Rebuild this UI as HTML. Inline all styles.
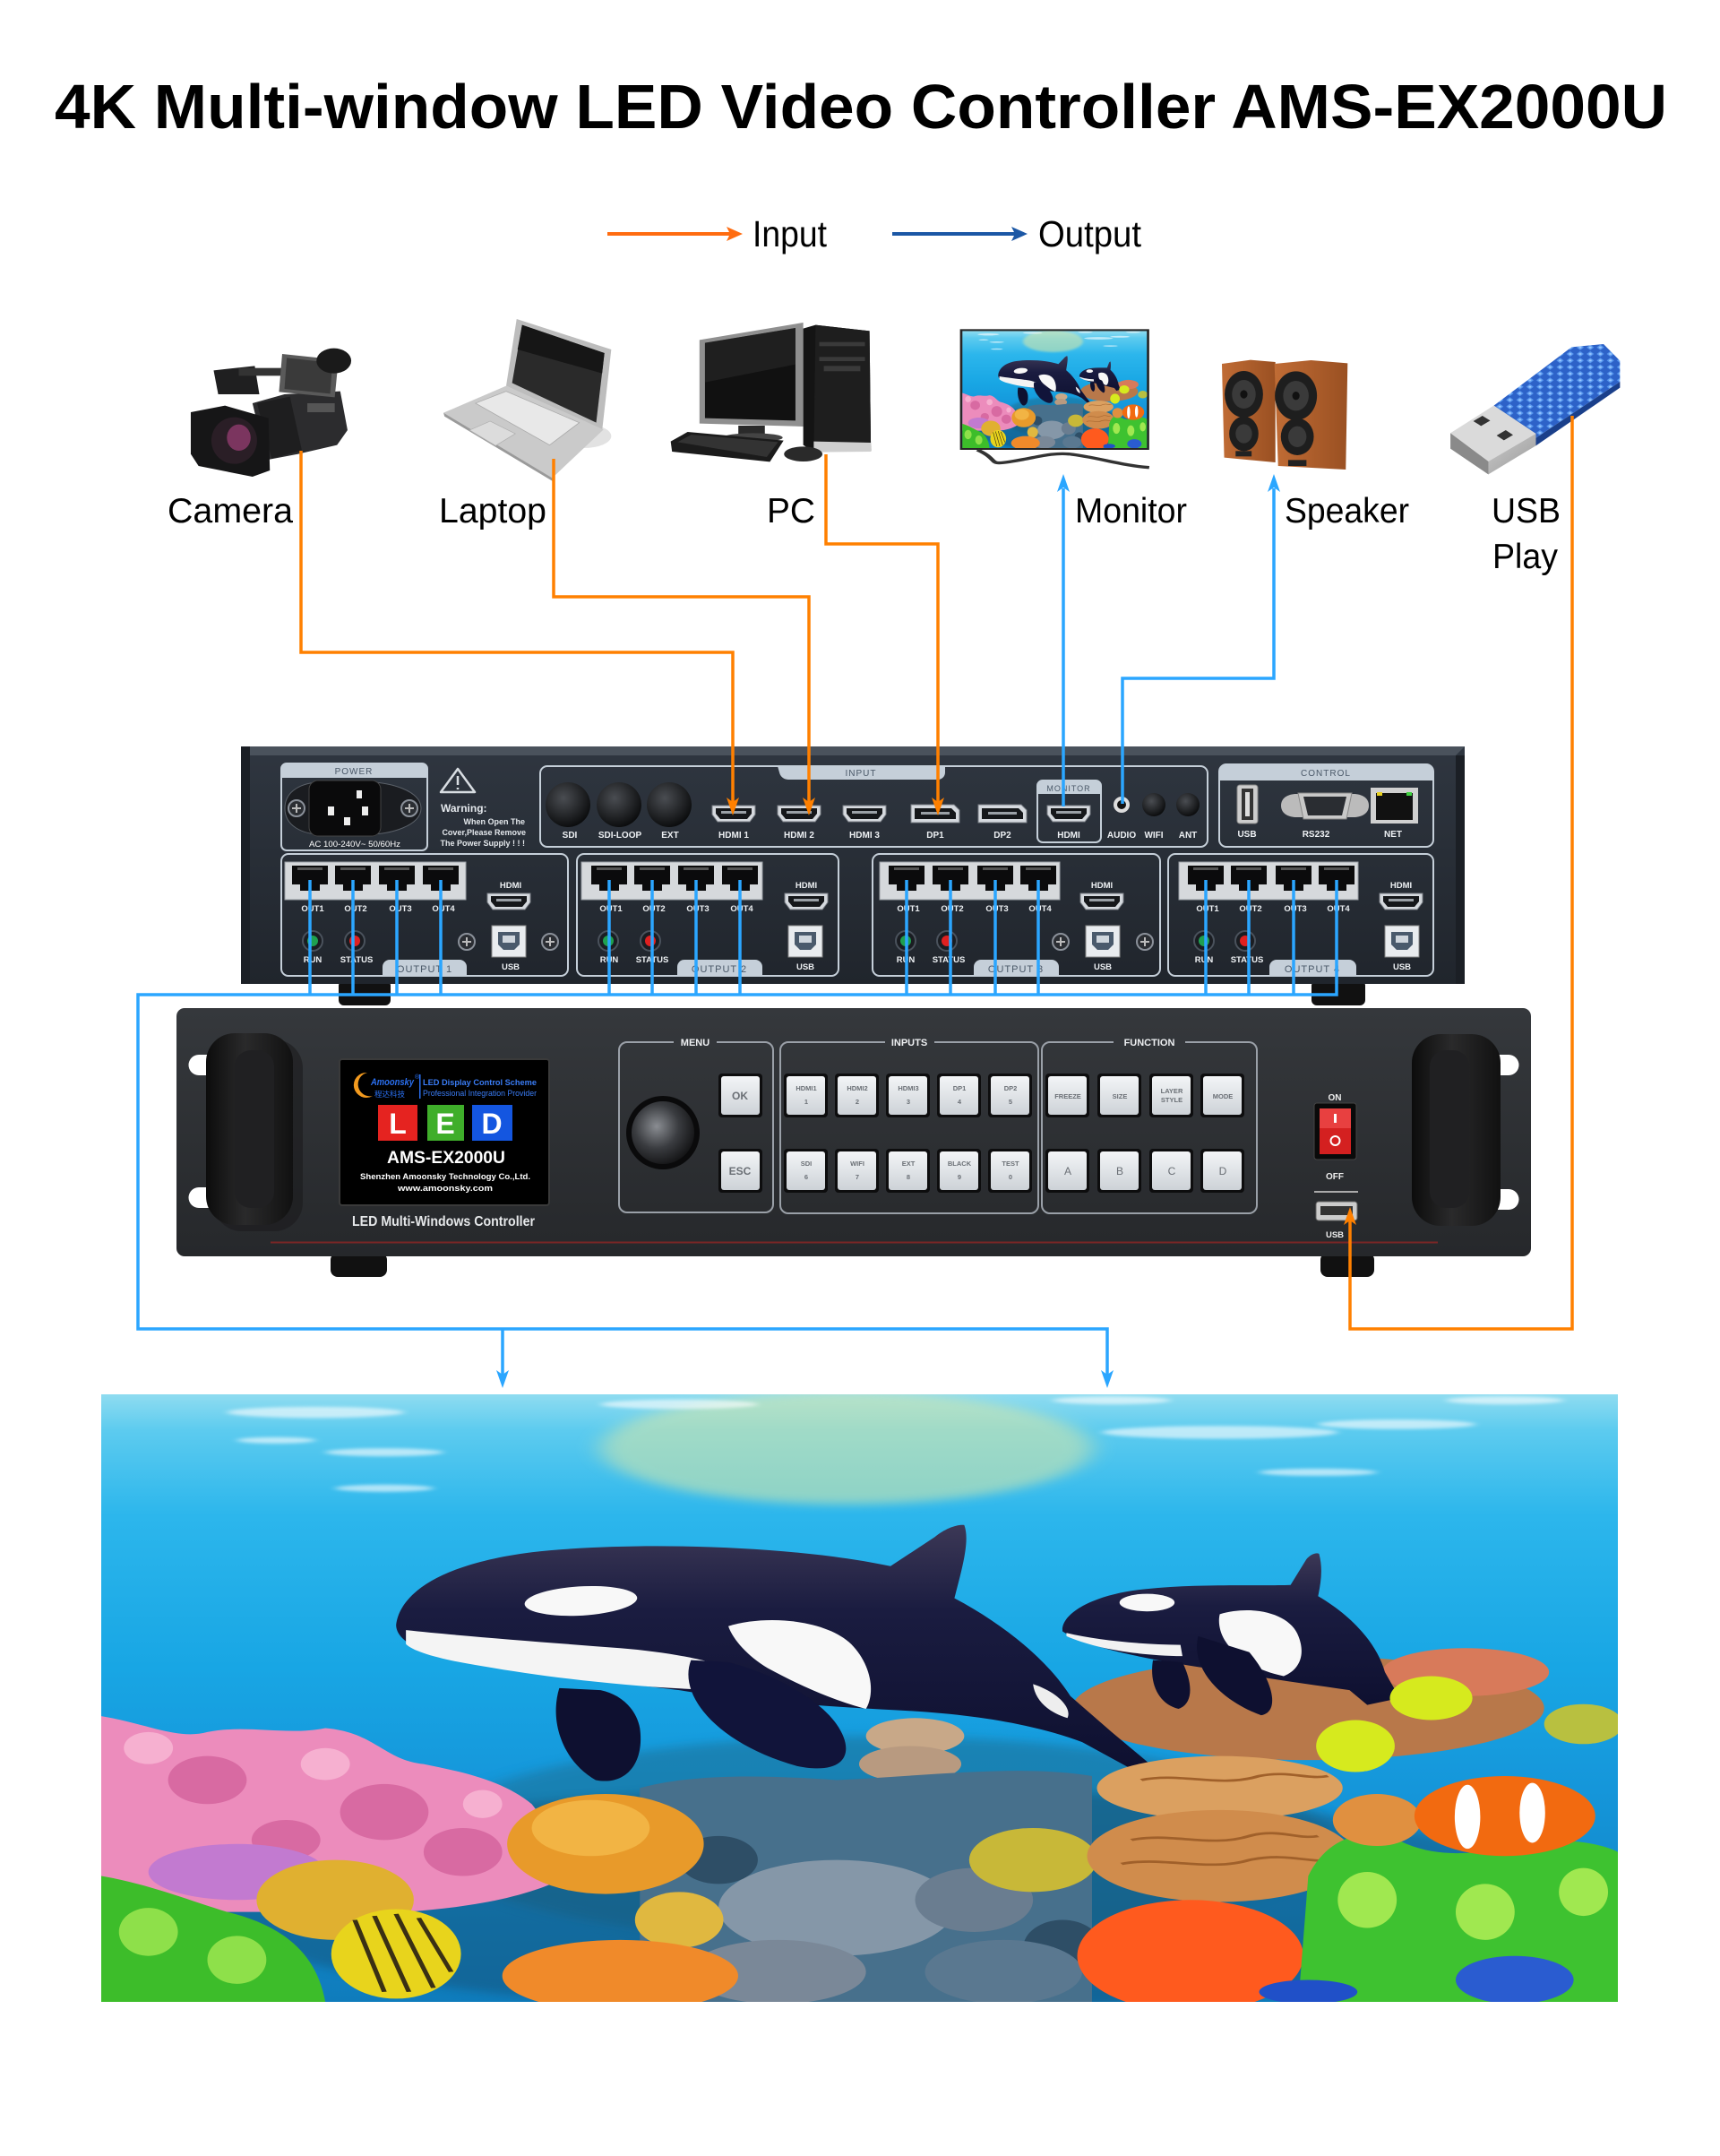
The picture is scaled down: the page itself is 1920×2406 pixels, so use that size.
<!DOCTYPE html>
<html><head><meta charset="utf-8">
<style>
html,body{margin:0;padding:0;background:#fff;}
svg{display:block;}
text{font-family:"Liberation Sans",Arial,"Noto Sans CJK SC",sans-serif;}
</style></head><body>
<svg width="1920" height="2406" viewBox="0 0 1920 2406" xmlns="http://www.w3.org/2000/svg">
<defs>
<linearGradient id="water" x1="0" y1="0" x2="0" y2="1">
<stop offset="0" stop-color="#8fdcf0"/><stop offset="0.06" stop-color="#5ccbef"/><stop offset="0.2" stop-color="#2cb6ec"/><stop offset="0.45" stop-color="#18a6e4"/><stop offset="0.65" stop-color="#1596da"/><stop offset="1" stop-color="#0f7cbc"/>
</linearGradient>
<linearGradient id="orcaShade" x1="0" y1="0" x2="0" y2="1">
<stop offset="0" stop-color="#3c3856"/><stop offset="0.35" stop-color="#1a1c40"/><stop offset="1" stop-color="#0e1030"/>
</linearGradient>
<filter id="b12" x="-50%" y="-50%" width="200%" height="200%"><feGaussianBlur stdDeviation="12"/></filter>
<filter id="b4" x="-50%" y="-50%" width="200%" height="200%"><feGaussianBlur stdDeviation="4"/></filter>
<linearGradient id="rearBody" x1="0" y1="0" x2="0" y2="1"><stop offset="0" stop-color="#2f3640"/><stop offset="1" stop-color="#20252c"/></linearGradient>
<linearGradient id="frontBody" x1="0" y1="0" x2="0" y2="1"><stop offset="0" stop-color="#35383c"/><stop offset="1" stop-color="#26282b"/></linearGradient>
<linearGradient id="btnG" x1="0" y1="0" x2="0" y2="1"><stop offset="0" stop-color="#f3f5f7"/><stop offset="1" stop-color="#cdd2d7"/></linearGradient>
<radialGradient id="knobG" cx="0.4" cy="0.4" r="0.7"><stop offset="0" stop-color="#8a8d92"/><stop offset="0.5" stop-color="#3a3c40"/><stop offset="1" stop-color="#0c0c0d"/></radialGradient>
<radialGradient id="sdiG" cx="0.4" cy="0.35" r="0.7"><stop offset="0" stop-color="#4a4d52"/><stop offset="1" stop-color="#08090a"/></radialGradient>
<linearGradient id="handleG" x1="0" y1="0" x2="1" y2="0"><stop offset="0" stop-color="#0c0c0c"/><stop offset="0.45" stop-color="#2a2a2b"/><stop offset="1" stop-color="#111"/></linearGradient>
<linearGradient id="silverG" x1="0" y1="0" x2="1" y2="1"><stop offset="0" stop-color="#f0f0f0"/><stop offset="1" stop-color="#9a9a9a"/></linearGradient>
<linearGradient id="woodG" x1="0" y1="0" x2="1" y2="0"><stop offset="0" stop-color="#c06c35"/><stop offset="1" stop-color="#9a5022"/></linearGradient>
<pattern id="dots" width="22" height="22" patternUnits="userSpaceOnUse"><rect width="22" height="22" fill="#2d62c8"/><path d="M11,2 L19,11 L11,20 L3,11Z" fill="#5a9af0"/><circle cx="11" cy="11" r="3" fill="#9cc8ff"/></pattern>

<symbol id="ocean" viewBox="12 35 1543 1520" preserveAspectRatio="none">
<rect x="12" y="35" width="1543" height="1520" fill="url(#water)"/>
<ellipse cx="770" cy="170" rx="250" ry="140" fill="#d8e8a8" opacity="0.55" filter="url(#b12)"/>
<g fill="#ffffff" opacity="0.6" filter="url(#b4)">
<ellipse cx="230" cy="80" rx="90" ry="14"/><ellipse cx="300" cy="180" rx="60" ry="10"/><ellipse cx="190" cy="150" rx="40" ry="8"/>
<ellipse cx="1150" cy="130" rx="120" ry="16"/><ellipse cx="1330" cy="110" rx="80" ry="12"/><ellipse cx="1440" cy="50" rx="60" ry="10"/>
<ellipse cx="1040" cy="50" rx="60" ry="10"/><ellipse cx="600" cy="60" rx="80" ry="12"/><ellipse cx="300" cy="270" rx="50" ry="9"/><ellipse cx="1250" cy="230" rx="60" ry="9"/>
</g>
<ellipse cx="800" cy="1150" rx="460" ry="260" fill="#1d6f94" opacity="0.55" filter="url(#b12)"/>
<ellipse cx="800" cy="1300" rx="700" ry="280" fill="#123a55" opacity="0.35" filter="url(#b12)"/>
<ellipse cx="1240" cy="820" rx="240" ry="130" fill="#b8784a"/>
<ellipse cx="1400" cy="730" rx="85" ry="60" fill="#d87a5a"/>
<ellipse cx="840" cy="890" rx="50" ry="45" fill="#c8a888"/>
<ellipse cx="835" cy="960" rx="52" ry="45" fill="#b89a80"/>
<path d="M560,1020 C620,980 700,990 760,1000 C850,990 950,960 1020,990 L1020,1555 L560,1555 Z" fill="#47708c"/>
<ellipse cx="760" cy="1320" rx="120" ry="120" fill="#8597a8"/>
<ellipse cx="900" cy="1300" rx="60" ry="80" fill="#6a7d90"/>
<ellipse cx="700" cy="1480" rx="90" ry="80" fill="#7a8898"/>
<ellipse cx="640" cy="1200" rx="40" ry="60" fill="#2e4e66"/>
<ellipse cx="990" cy="1420" rx="40" ry="70" fill="#2e4e66"/>
<ellipse cx="1520" cy="860" rx="40" ry="50" fill="#b8c040"/>
<!-- big orca -->
<path d="M312,612 C316,530 360,458 450,430 C560,400 720,415 815,465 L860,392 C870,372 882,360 890,362 C896,400 888,470 880,545 C930,610 975,700 998,790 L1040,880 L1078,958 L1062,975 L1010,905 C960,860 900,835 820,825 C740,815 660,800 600,775 C500,745 400,720 345,680 C325,665 312,640 312,612 Z" fill="url(#orcaShade)"/>
<path d="M322,625 C380,640 460,655 540,670 C590,680 630,700 650,720 L640,775 C560,770 470,745 400,715 C360,700 330,680 322,660 Z" fill="#f4f4f4"/>
<ellipse cx="500" cy="552" rx="58" ry="36" transform="rotate(-12 500 552)" fill="#f8f8f8"/>
<path d="M650,615 C690,585 750,600 775,660 C795,710 800,780 790,822 C755,800 720,760 690,720 C670,690 655,650 650,615 Z" fill="#f8f8f8"/>
<path d="M960,760 C985,780 1000,820 995,845 C975,830 962,800 960,760Z" fill="#eee"/>
<path d="M478,770 C468,850 480,950 515,1000 C545,1015 565,960 560,870 C556,820 540,785 520,775 Z" fill="#0e1030"/>
<path d="M612,700 C598,790 640,910 720,965 C770,990 780,930 760,860 C740,790 690,730 650,705 Z" fill="#11143a"/>
<!-- small orca -->
<path d="M990,628 C988,585 1020,535 1075,522 C1130,508 1190,515 1222,512 L1238,448 C1242,436 1248,430 1251,434 C1255,470 1253,505 1250,540 C1285,590 1310,660 1318,730 L1333,795 L1300,812 L1282,775 C1240,760 1195,745 1150,725 C1080,700 1015,670 990,628 Z" fill="url(#orcaShade)"/>
<ellipse cx="1076" cy="556" rx="28" ry="22" fill="#f8f8f8"/>
<path d="M1150,585 C1185,560 1222,585 1230,640 C1238,690 1230,725 1215,740 C1185,725 1165,690 1155,650 C1150,630 1148,605 1150,585 Z" fill="#f8f8f8"/>
<path d="M994,632 C1025,650 1065,660 1110,662 L1112,690 C1060,688 1020,668 994,640 Z" fill="#f2f2f2"/>
<path d="M1082,700 C1078,760 1088,810 1108,822 C1124,808 1122,755 1112,705 Z" fill="#0e1030"/>
<path d="M1128,640 C1120,720 1150,800 1192,838 C1212,830 1204,750 1180,680 Z" fill="#0e1030"/>
<!-- near reef -->
<path d="M12,840 C60,860 90,900 120,880 C160,860 200,890 240,870 C290,880 300,950 340,960 C380,980 420,1000 450,1060 C470,1120 480,1200 470,1260 C430,1300 380,1320 320,1330 L12,1330 Z" fill="#ec8cbc"/>
<g fill="#d86aa2"><ellipse cx="120" cy="1000" rx="40" ry="60"/><ellipse cx="300" cy="1080" rx="45" ry="70"/><ellipse cx="380" cy="1180" rx="40" ry="60"/><ellipse cx="200" cy="1150" rx="35" ry="50"/></g>
<g fill="#f6b0d0"><ellipse cx="60" cy="920" rx="25" ry="40"/><ellipse cx="240" cy="960" rx="25" ry="40"/><ellipse cx="400" cy="1060" rx="20" ry="35"/></g>
<ellipse cx="150" cy="1230" rx="90" ry="70" fill="#c27ad0"/>
<ellipse cx="525" cy="1160" rx="100" ry="125" fill="#e89a2a"/>
<ellipse cx="510" cy="1120" rx="60" ry="70" fill="#f2b444"/>
<ellipse cx="250" cy="1300" rx="80" ry="100" fill="#e0b030"/>
<path d="M12,1240 C60,1260 100,1300 140,1330 C190,1360 230,1420 240,1555 L12,1555 Z" fill="#3dbd2a"/>
<g fill="#8ee04a"><ellipse cx="60" cy="1380" rx="30" ry="60"/><ellipse cx="150" cy="1450" rx="30" ry="60"/></g>
<ellipse cx="600" cy="1350" rx="45" ry="70" fill="#e0b840"/>
<ellipse cx="540" cy="1490" rx="120" ry="90" fill="#f08a2a"/>
<ellipse cx="312" cy="1435" rx="66" ry="112" fill="#e8d41c"/>
<g stroke="#3a3014" stroke-width="5" fill="none"><path d="M270,1350 L300,1530"/><path d="M290,1340 L325,1530"/><path d="M312,1335 L350,1520"/><path d="M335,1345 L368,1480"/></g>
<ellipse cx="960" cy="1200" rx="65" ry="80" fill="#c8b838"/>
<ellipse cx="1150" cy="1020" rx="125" ry="80" fill="#dba060"/>
<ellipse cx="1150" cy="1190" rx="135" ry="115" fill="#d08c4c"/>
<g stroke="#a0602a" stroke-width="6" fill="none"><path d="M1060,1150 C1100,1130 1140,1170 1180,1140 C1210,1120 1230,1150 1250,1140"/><path d="M1050,1210 C1090,1190 1140,1230 1180,1200 C1220,1180 1240,1210 1270,1200"/><path d="M1070,1000 C1110,980 1150,1020 1190,990 C1220,975 1240,1000 1260,990"/></g>
<ellipse cx="930" cy="1480" rx="80" ry="80" fill="#5a7890"/>
<ellipse cx="1120" cy="1440" rx="115" ry="140" fill="#ff5a1e"/>
<path d="M1230,1555 L1240,1240 C1260,1140 1300,1110 1340,1160 C1380,1200 1420,1180 1460,1160 C1500,1140 1540,1160 1555,1180 L1555,1555 Z" fill="#3ec230"/>
<g fill="#a0e850"><ellipse cx="1300" cy="1300" rx="30" ry="70"/><ellipse cx="1420" cy="1330" rx="30" ry="70"/><ellipse cx="1520" cy="1280" rx="25" ry="60"/></g>
<ellipse cx="1310" cy="1100" rx="45" ry="65" fill="#e09040"/>
<ellipse cx="1440" cy="1090" rx="92" ry="100" fill="#f26a10"/>
<ellipse cx="1402" cy="1092" rx="13" ry="80" fill="#fff"/>
<ellipse cx="1468" cy="1082" rx="13" ry="75" fill="#fff"/>
<ellipse cx="1365" cy="795" rx="42" ry="55" fill="#d6ea1e"/>
<ellipse cx="1288" cy="915" rx="40" ry="65" fill="#d6ea1e"/>
<ellipse cx="1450" cy="1500" rx="60" ry="60" fill="#2a5cd0"/>
<ellipse cx="1240" cy="1530" rx="50" ry="30" fill="#2050c8"/>
</symbol>

<g id="hdmi"><path d="M-24,-9 H24 V1 L18,9 H-18 L-24,1 Z" fill="#d5d9de" stroke="#7a7f86" stroke-width="1"/><path d="M-20,-6 H20 V0 L15,6 H-15 L-20,0 Z" fill="#15171a"/><rect x="-14" y="-3" width="28" height="3" fill="#9aa0a6"/></g>
<g id="dp"><path d="M-27,-10 H21 L27,-4 V10 H-27 Z" fill="#d5d9de" stroke="#7a7f86"/><path d="M-23,-6 H18 L23,-1 V6 H-23 Z" fill="#15171a"/><rect x="-16" y="-2" width="32" height="3" fill="#9aa0a6"/></g>
<g id="rj"><path d="M-20,-15 H20 V6 H11 V13 H-11 V6 H-20 Z" fill="#0b0b0c"/><rect x="-14" y="-13" width="28" height="3" fill="#555"/></g>
<g id="usbb"><rect x="-19" y="-17" width="38" height="35" fill="#e9ecef" stroke="#888"/><path d="M-12,-10 H12 V4 L6,10 H-6 L-12,4 Z" fill="#4a5a6c"/><rect x="-7" y="-6" width="14" height="8" fill="#cfd6dd"/></g>
<g id="ledg"><circle r="11" fill="#1a1d22" stroke="#4a525c" stroke-width="2"/><circle r="6" fill="#1fa050"/></g>
<g id="ledr"><circle r="11" fill="#1a1d22" stroke="#4a525c" stroke-width="2"/><circle r="6" fill="#e02020"/></g>
<g id="screw"><circle r="9" fill="#2b2e33" stroke="#8a9099" stroke-width="2"/><path d="M-5,0 H5 M0,-5 V5" stroke="#bbb" stroke-width="2"/></g>
<g id="btn"><rect x="0" y="0" width="49" height="49" rx="4" fill="#0d0d0e"/><rect x="3" y="3" width="43" height="43" rx="3" fill="url(#btnG)"/></g>
</defs>

<rect width="1920" height="2406" fill="#fff"/>

<!-- Title -->
<text x="961" y="143" font-size="70" font-weight="bold" text-anchor="middle" textLength="1800" lengthAdjust="spacingAndGlyphs" fill="#000">4K Multi-window LED Video Controller AMS-EX2000U</text>

<!-- Legend -->
<line x1="678" y1="261" x2="816" y2="261" stroke="#ff6c10" stroke-width="4"/>
<polygon points="829,261 811,253 815,261 811,269" fill="#ff6c10"/>
<text x="840" y="275" font-size="41" textLength="83" lengthAdjust="spacingAndGlyphs">Input</text>
<line x1="996" y1="261" x2="1134" y2="261" stroke="#1b57a5" stroke-width="4"/>
<polygon points="1147,261 1129,253 1133,261 1129,269" fill="#1b57a5"/>
<text x="1159" y="275" font-size="41" textLength="115" lengthAdjust="spacingAndGlyphs">Output</text>

<!-- Devices left -->
<svg x="190" y="340" width="800" height="200" viewBox="0 0 1568 600" preserveAspectRatio="none">
<path d="M95,220 L185,205 L195,300 L105,300 Z" fill="#1f1f20"/>
<rect x="150" y="212" width="120" height="26" fill="#333"/>
<path d="M180,330 L250,300 L372,290 L388,420 L365,470 L280,500 L210,520 Z" fill="#2c2c2e"/>
<path d="M245,165 L368,185 L360,310 L238,292 Z" fill="#5a5a5a"/>
<path d="M255,178 L355,195 L350,298 L250,282 Z" fill="#3a3a3a"/>
<ellipse cx="358" cy="188" rx="38" ry="42" fill="#1a1a1a"/>
<path d="M190,330 L262,308 L288,488 L222,515 Z" fill="#1e1e1f"/>
<path d="M45,360 L120,338 L215,380 L218,555 L180,576 L62,540 L45,500 Z" fill="#161617"/>
<ellipse cx="140" cy="455" rx="50" ry="78" fill="#2a1e26"/>
<ellipse cx="150" cy="445" rx="26" ry="44" fill="#8a3a6a" opacity="0.85"/>
<rect x="300" y="330" width="60" height="30" fill="#555"/>
<ellipse cx="905" cy="440" rx="60" ry="40" fill="#e2e2e2"/>
<path d="M758,48 L965,150 L945,422 L735,272 Z" fill="#bdbdbd"/>
<path d="M770,68 L950,162 L932,395 L748,262 Z" fill="#2a2a2a"/>
<path d="M770,68 L950,162 L945,230 L760,150 Z" fill="#161616"/>
<path d="M598,362 L735,272 L948,418 L836,580 Z" fill="#cacaca"/>
<path d="M598,362 L836,580 L838,592 L600,374 Z" fill="#9a9a9a"/>
<path d="M668,330 L735,290 L895,395 L830,470 Z" fill="#e8e8e8" stroke="#aaa" stroke-width="2"/>
<path d="M655,420 L700,390 L755,432 L712,472 Z" fill="#dcdcdc" stroke="#b0b0b0" stroke-width="2"/>
<path d="M1158,118 L1385,60 L1385,408 L1158,398 Z" fill="#8f8f8f"/>
<path d="M1170,128 L1368,78 L1368,388 L1170,380 Z" fill="#111"/>
<path d="M1170,128 L1368,78 L1368,200 L1170,260 Z" fill="#2a2a2a" opacity="0.6"/>
<rect x="1243" y="405" width="58" height="35" fill="#2a2a2a"/>
<ellipse cx="1275" cy="445" rx="65" ry="15" fill="#444"/>
<path d="M1385,80 L1412,68 L1530,88 L1533,490 L1408,492 L1385,470 Z" fill="#141414"/>
<path d="M1412,68 L1530,88 L1533,490 L1408,492 Z" fill="#1e1e1e"/>
<path d="M1408,458 L1533,462 L1533,492 L1408,494 Z" fill="#cfcfcf"/>
<rect x="1420" y="125" width="100" height="14" fill="#3a3a3a"/><rect x="1420" y="175" width="100" height="14" fill="#3a3a3a"/><rect x="1430" y="205" width="80" height="18" fill="#3a3a3a"/>
<path d="M1095,458 L1132,426 L1342,455 L1312,526 L1098,492 Z" fill="#1b1b1b"/>
<path d="M1110,460 L1140,435 L1330,460 L1305,510 Z" fill="#333"/>
<ellipse cx="1385" cy="500" rx="42" ry="25" fill="#2a2a2a"/>
</svg>

<!-- Devices right -->
<svg x="1040" y="340" width="800" height="200" viewBox="0 0 1568 600" preserveAspectRatio="none">
<rect x="62" y="82" width="414" height="404" fill="#262626"/>
<use href="#ocean" x="67" y="88" width="404" height="392"/>
<path d="M100,486 C150,520 120,538 170,526 C230,512 260,495 300,500 C360,510 420,540 476,545" fill="none" stroke="#333" stroke-width="10"/>
<path d="M635,198 L698,185 L752,192 L752,528 L640,512 Z" fill="url(#woodG)"/>
<path d="M750,198 L830,186 L910,196 L906,552 L758,540 Z" fill="url(#woodG)"/>
<ellipse cx="683" cy="300" rx="42" ry="78" fill="#1e1e1e"/><ellipse cx="683" cy="300" rx="26" ry="48" fill="#3a3a3a"/><ellipse cx="683" cy="300" rx="8" ry="14" fill="#111"/>
<ellipse cx="683" cy="432" rx="32" ry="58" fill="#1e1e1e"/><ellipse cx="683" cy="432" rx="18" ry="32" fill="#3a3a3a"/>
<ellipse cx="797" cy="305" rx="46" ry="82" fill="#1e1e1e"/><ellipse cx="797" cy="305" rx="28" ry="50" fill="#3a3a3a"/><ellipse cx="797" cy="305" rx="8" ry="14" fill="#111"/>
<ellipse cx="800" cy="442" rx="36" ry="62" fill="#1e1e1e"/><ellipse cx="800" cy="442" rx="20" ry="35" fill="#3a3a3a"/>
<rect x="665" y="490" width="35" height="18" fill="#222"/><rect x="780" y="520" width="40" height="20" fill="#222"/>
<path d="M1228,340 L1400,142 L1470,132 L1506,188 L1506,258 L1320,448 Z" fill="url(#dots)"/>
<path d="M1320,448 L1506,258 L1506,278 L1322,472 Z" fill="#1a3f8a"/>
<path d="M1135,430 L1230,338 L1322,432 L1322,472 L1218,568 L1135,482 Z" fill="url(#silverG)"/>
<path d="M1135,430 L1230,338 L1322,432 L1218,525 Z" fill="#dadada"/>
<path d="M1135,430 L1218,525 L1218,568 L1135,482 Z" fill="#8a8a8a"/>
<path d="M1185,390 L1205,372 L1222,388 L1202,406 Z" fill="#333"/>
<path d="M1236,438 L1256,420 L1272,436 L1252,454 Z" fill="#333"/>
</svg>

<!-- Device labels -->
<g font-size="39" fill="#000">
<text x="187" y="583" textLength="140" lengthAdjust="spacingAndGlyphs">Camera</text>
<text x="490" y="583" textLength="120" lengthAdjust="spacingAndGlyphs">Laptop</text>
<text x="856" y="583" textLength="54" lengthAdjust="spacingAndGlyphs">PC</text>
<text x="1200" y="583" textLength="125" lengthAdjust="spacingAndGlyphs">Monitor</text>
<text x="1434" y="583" textLength="139" lengthAdjust="spacingAndGlyphs">Speaker</text>
<text x="1665" y="583" textLength="77" lengthAdjust="spacingAndGlyphs">USB</text>
<text x="1666" y="634" textLength="73" lengthAdjust="spacingAndGlyphs">Play</text>
</g>

<!-- REAR PANEL -->
<rect x="378" y="1094" width="58" height="28" rx="6" fill="#111"/>
<rect x="1464" y="1094" width="60" height="28" rx="6" fill="#111"/>
<rect x="269" y="833" width="1366" height="265" fill="url(#rearBody)"/>
<path d="M269,833 H1635 L1625,843 H279 Z" fill="#4a525c"/>
<rect x="269" y="833" width="10" height="265" fill="#1b1f25"/>
<rect x="1625" y="843" width="10" height="255" fill="#1b1f25"/>
<g fill="none" stroke="#c5cfd9" stroke-width="2">
<rect x="314" y="852" width="163" height="97" rx="6"/>
<rect x="603" y="855" width="745" height="90" rx="8"/>
<rect x="1158" y="871" width="71" height="69" rx="6"/>
<rect x="1361" y="853" width="239" height="92" rx="8"/>
<rect x="314" y="953" width="320" height="136" rx="8"/>
<rect x="644" y="953" width="292" height="136" rx="8"/>
<rect x="974" y="953" width="321" height="136" rx="8"/>
<rect x="1304" y="953" width="296" height="136" rx="8"/>
</g>
<g fill="#c5cfd9">
<path d="M314,868 V858 a6,6 0 0 1 6,-6 H471 a6,6 0 0 1 6,6 V868 Z"/>
<path d="M868,855 H1055 V862 a8,8 0 0 1 -8,8 H880 a10,10 0 0 1 -10,-8 Z"/>
<path d="M1158,886 V877 a6,6 0 0 1 6,-6 H1223 a6,6 0 0 1 6,6 V886 Z"/>
<path d="M1361,871 V861 a8,8 0 0 1 8,-8 H1592 a8,8 0 0 1 8,8 V871 Z"/>
<path d="M427,1089 V1079 a8,8 0 0 1 8,-8 H513 a8,8 0 0 1 8,8 V1089 Z"/>
<path d="M756,1089 V1079 a8,8 0 0 1 8,-8 H843 a8,8 0 0 1 8,8 V1089 Z"/>
<path d="M1087,1089 V1079 a8,8 0 0 1 8,-8 H1174 a8,8 0 0 1 8,8 V1089 Z"/>
<path d="M1417,1089 V1079 a8,8 0 0 1 8,-8 H1506 a8,8 0 0 1 8,8 V1089 Z"/>
</g>
<g font-size="10" fill="#4a5868" text-anchor="middle" letter-spacing="1">
<text x="395" y="864">POWER</text>
<text x="961" y="866">INPUT</text>
<text x="1193" y="883" font-size="9">MONITOR</text>
<text x="1480" y="866">CONTROL</text>
<text x="474" y="1085" font-size="11">OUTPUT 1</text>
<text x="803" y="1085" font-size="11">OUTPUT 2</text>
<text x="1134" y="1085" font-size="11">OUTPUT 3</text>
<text x="1465" y="1085" font-size="11">OUTPUT 4</text>
</g>
<path d="M318,902 C318,882 338,873 358,873 H414 C434,873 470,882 470,902 C470,922 434,931 414,931 H358 C338,931 318,922 318,902 Z" fill="#1a1c20" stroke="#5a6068"/>
<use href="#screw" x="331" y="902"/><use href="#screw" x="457" y="902"/>
<rect x="345" y="871" width="80" height="62" rx="10" fill="#0a0a0b" stroke="#444"/>
<rect x="366" y="900" width="7" height="10" fill="#eee"/><rect x="404" y="900" width="7" height="10" fill="#eee"/><rect x="398" y="882" width="6" height="9" fill="#eee"/><rect x="384" y="912" width="7" height="9" fill="#eee"/>
<text x="396" y="945" font-size="9.5" fill="#fff" text-anchor="middle" textLength="102" lengthAdjust="spacingAndGlyphs">AC 100-240V~ 50/60Hz</text>
<path d="M511,858 L530,884 L492,884 Z" fill="none" stroke="#d8dde2" stroke-width="2.5" stroke-linejoin="round"/>
<path d="M511,866 V876 M511,879 V881" stroke="#d8dde2" stroke-width="2.5"/>
<g fill="#e4e8ec" font-weight="bold">
<text x="492" y="906" font-size="12">Warning:</text>
<text x="586" y="920" font-size="9" text-anchor="end">When Open The</text>
<text x="587" y="932" font-size="9" text-anchor="end">Cover,Please Remove</text>
<text x="586" y="944" font-size="9" text-anchor="end">The Power Supply ! ! !</text>
</g>
<circle cx="634" cy="898" r="25" fill="url(#sdiG)"/><circle cx="691" cy="898" r="25" fill="url(#sdiG)"/><circle cx="747" cy="898" r="25" fill="url(#sdiG)"/>
<use href="#hdmi" x="819" y="908"/><use href="#hdmi" x="892" y="908"/><use href="#hdmi" x="965" y="908"/>
<use href="#dp" x="1044" y="908"/><use href="#dp" x="1119" y="908"/><use href="#hdmi" x="1193" y="908"/>
<circle cx="1252" cy="898" r="9" fill="#ddd"/><circle cx="1252" cy="898" r="5" fill="#111"/>
<circle cx="1288" cy="898" r="13" fill="url(#sdiG)"/><circle cx="1326" cy="898" r="13" fill="url(#sdiG)"/>
<rect x="1381" y="876" width="23" height="43" rx="3" fill="#ccc" stroke="#888"/><rect x="1386" y="880" width="13" height="35" fill="#333"/><rect x="1390" y="884" width="5" height="27" fill="#ddd"/>
<path d="M1430,899 C1430,889 1440,886 1447,886 H1511 C1518,886 1528,889 1528,899 C1528,909 1518,912 1511,912 H1447 C1440,912 1430,909 1430,899 Z" fill="#bbb"/>
<path d="M1449,885 H1509 L1503,914 H1455 Z" fill="#c8c8c8" stroke="#888"/>
<path d="M1455,889 H1503 L1498,910 H1460 Z" fill="#2a2d32"/>
<rect x="1530" y="879" width="53" height="40" fill="#d0d0d0"/><rect x="1536" y="885" width="41" height="30" fill="#111"/>
<rect x="1537" y="884" width="6" height="4" fill="#e8d020"/><rect x="1570" y="884" width="6" height="4" fill="#40d040"/>
<g font-size="10" fill="#eef1f4" text-anchor="middle" font-weight="bold">
<text x="636" y="935">SDI</text><text x="692" y="935">SDI-LOOP</text><text x="748" y="935">EXT</text>
<text x="819" y="935">HDMI 1</text><text x="892" y="935">HDMI 2</text><text x="965" y="935">HDMI 3</text>
<text x="1044" y="935">DP1</text><text x="1119" y="935">DP2</text><text x="1193" y="935">HDMI</text>
<text x="1252" y="935">AUDIO</text><text x="1288" y="935">WIFI</text><text x="1326" y="935">ANT</text>
<text x="1392" y="934">USB</text><text x="1469" y="934">RS232</text><text x="1555" y="934">NET</text>
</g>
<g fill="#d6d9dc" stroke="#9aa0a6">
<rect x="318" y="962" width="202" height="42"/><rect x="649" y="962" width="202" height="42"/><rect x="982" y="962" width="201" height="42"/><rect x="1316" y="962" width="200" height="42"/>
</g>
<use href="#rj" x="346" y="981"/><use href="#rj" x="394" y="981"/><use href="#rj" x="443" y="981"/><use href="#rj" x="492" y="981"/>
<use href="#rj" x="680" y="981"/><use href="#rj" x="728" y="981"/><use href="#rj" x="777" y="981"/><use href="#rj" x="826" y="981"/>
<use href="#rj" x="1012" y="981"/><use href="#rj" x="1061" y="981"/><use href="#rj" x="1111" y="981"/><use href="#rj" x="1159" y="981"/>
<use href="#rj" x="1346" y="981"/><use href="#rj" x="1394" y="981"/><use href="#rj" x="1444" y="981"/><use href="#rj" x="1492" y="981"/>
<use href="#hdmi" x="568" y="1006"/><use href="#hdmi" x="900" y="1006"/><use href="#hdmi" x="1230" y="1006"/><use href="#hdmi" x="1564" y="1006"/>
<use href="#ledg" x="349" y="1050"/><use href="#ledr" x="396" y="1050"/>
<use href="#ledg" x="679" y="1050"/><use href="#ledr" x="726" y="1050"/>
<use href="#ledg" x="1011" y="1050"/><use href="#ledr" x="1057" y="1050"/>
<use href="#ledg" x="1344" y="1050"/><use href="#ledr" x="1390" y="1050"/>
<use href="#screw" x="521" y="1051"/><use href="#screw" x="614" y="1051"/><use href="#screw" x="1184" y="1051"/><use href="#screw" x="1278" y="1051"/>
<use href="#usbb" x="568" y="1050"/><use href="#usbb" x="899" y="1050"/><use href="#usbb" x="1231" y="1050"/><use href="#usbb" x="1565" y="1050"/>
<g font-size="9.5" fill="#eef1f4" text-anchor="middle" font-weight="bold">
<text x="349" y="1017">OUT1</text><text x="397" y="1017">OUT2</text><text x="447" y="1017">OUT3</text><text x="495" y="1017">OUT4</text>
<text x="682" y="1017">OUT1</text><text x="730" y="1017">OUT2</text><text x="779" y="1017">OUT3</text><text x="828" y="1017">OUT4</text>
<text x="1014" y="1017">OUT1</text><text x="1063" y="1017">OUT2</text><text x="1113" y="1017">OUT3</text><text x="1161" y="1017">OUT4</text>
<text x="1348" y="1017">OUT1</text><text x="1396" y="1017">OUT2</text><text x="1446" y="1017">OUT3</text><text x="1494" y="1017">OUT4</text>
<text x="570" y="991">HDMI</text><text x="900" y="991">HDMI</text><text x="1230" y="991">HDMI</text><text x="1564" y="991">HDMI</text>
<text x="349" y="1074">RUN</text><text x="398" y="1074">STATUS</text>
<text x="680" y="1074">RUN</text><text x="728" y="1074">STATUS</text>
<text x="1011" y="1074">RUN</text><text x="1059" y="1074">STATUS</text>
<text x="1344" y="1074">RUN</text><text x="1392" y="1074">STATUS</text>
<text x="570" y="1082">USB</text><text x="899" y="1082">USB</text><text x="1231" y="1082">USB</text><text x="1565" y="1082">USB</text>
</g>

<!-- FRONT PANEL -->
<rect x="369" y="1398" width="63" height="27" rx="8" fill="#111"/>
<rect x="1474" y="1398" width="60" height="27" rx="8" fill="#111"/>
<rect x="197" y="1125" width="1512" height="277" rx="9" fill="url(#frontBody)"/>
<g fill="#fff">
<path d="M234,1177 h-12 a11.5,11.5 0 0 0 0,23 h12 z"/><path d="M234,1325 h-12 a11.5,11.5 0 0 0 0,23 h12 z"/>
<path d="M1672,1177 h12 a11.5,11.5 0 0 1 0,23 h-12 z"/><path d="M1672,1327 h12 a11.5,11.5 0 0 1 0,23 h-12 z"/>
</g>
<rect x="238" y="1160" width="100" height="214" rx="32" fill="#1a1b1d" opacity="0.6"/>
<rect x="230" y="1153" width="97" height="214" rx="32" fill="url(#handleG)"/>
<rect x="262" y="1172" width="44" height="176" rx="18" fill="#202022"/>
<rect x="1576" y="1154" width="99" height="214" rx="32" fill="url(#handleG)"/>
<rect x="1596" y="1172" width="44" height="176" rx="18" fill="#202022"/>
<rect x="379" y="1182" width="234" height="163" rx="3" fill="#000" stroke="#3a3a3a" stroke-width="2"/>
<path d="M410,1197 a14,14 0 1 0 6,26 a11,11 0 1 1 -6,-26 z" fill="#f39a1e"/>
<text x="414" y="1211" font-size="11" font-style="italic" font-weight="bold" fill="#2a6ff0" textLength="48" lengthAdjust="spacingAndGlyphs">Amoonsky</text>
<text x="463" y="1204" font-size="7" fill="#2a6ff0">®</text>
<text x="418" y="1224" font-size="8.5" fill="#2a6ff0" font-family="'Noto Sans CJK SC',sans-serif">程达科技</text>
<rect x="468" y="1199" width="1.5" height="27" fill="#2a6ff0"/>
<text x="472" y="1211" font-size="9.5" font-weight="bold" fill="#3a7cf5" textLength="127" lengthAdjust="spacingAndGlyphs">LED Display Control Scheme</text>
<text x="472" y="1223" font-size="9.5" fill="#3a7cf5" textLength="127" lengthAdjust="spacingAndGlyphs">Professional Integration Provider</text>
<rect x="422" y="1233" width="44" height="40" fill="#e52320"/><rect x="477" y="1233" width="41" height="40" fill="#3fae2a"/><rect x="527" y="1233" width="45" height="40" fill="#1456e0"/>
<g font-size="32" font-weight="bold" fill="#fff" text-anchor="middle">
<text x="444" y="1265">L</text><text x="497" y="1265">E</text><text x="549" y="1265">D</text>
</g>
<text x="498" y="1298" font-size="19" font-weight="bold" fill="#fff" text-anchor="middle" textLength="132" lengthAdjust="spacingAndGlyphs">AMS-EX2000U</text>
<text x="497" y="1316" font-size="9.5" font-weight="bold" fill="#fff" text-anchor="middle" textLength="190" lengthAdjust="spacingAndGlyphs">Shenzhen Amoonsky Technology Co.,Ltd.</text>
<text x="497" y="1329" font-size="9.5" font-weight="bold" fill="#fff" text-anchor="middle" textLength="106" lengthAdjust="spacingAndGlyphs">www.amoonsky.com</text>
<text x="495" y="1368" font-size="16" font-weight="bold" fill="#e6e8ea" text-anchor="middle" textLength="204" lengthAdjust="spacingAndGlyphs">LED Multi-Windows Controller</text>
<rect x="302" y="1385.5" width="1303" height="2" fill="#7a2626"/>
<g fill="none" stroke="#9aa0a8" stroke-width="2">
<path d="M752,1163 H700 a9,9 0 0 0 -9,9 V1344 a9,9 0 0 0 9,9 H854 a9,9 0 0 0 9,-9 V1172 a9,9 0 0 0 -9,-9 H800"/>
<path d="M988,1163 H880 a9,9 0 0 0 -9,9 V1345 a9,9 0 0 0 9,9 H1150 a9,9 0 0 0 9,-9 V1172 a9,9 0 0 0 -9,-9 H1043"/>
<path d="M1243,1163 H1172 a9,9 0 0 0 -9,9 V1345 a9,9 0 0 0 9,9 H1394 a9,9 0 0 0 9,-9 V1172 a9,9 0 0 0 -9,-9 H1323"/>
</g>
<g font-size="11" font-weight="bold" fill="#eef0f2" text-anchor="middle">
<text x="776" y="1167">MENU</text><text x="1015" y="1167">INPUTS</text><text x="1283" y="1167">FUNCTION</text>
</g>
<circle cx="740" cy="1264" r="41" fill="#0a0a0b"/>
<circle cx="740" cy="1264" r="35" fill="url(#knobG)"/>
<use href="#btn" x="802" y="1198"/><use href="#btn" x="802" y="1282"/>
<use href="#btn" x="875" y="1198"/><use href="#btn" x="932" y="1198"/><use href="#btn" x="989" y="1198"/><use href="#btn" x="1046" y="1198"/><use href="#btn" x="1103" y="1198"/>
<use href="#btn" x="875" y="1282"/><use href="#btn" x="932" y="1282"/><use href="#btn" x="989" y="1282"/><use href="#btn" x="1046" y="1282"/><use href="#btn" x="1103" y="1282"/>
<use href="#btn" x="1167" y="1198"/><use href="#btn" x="1225" y="1198"/><use href="#btn" x="1283" y="1198"/><use href="#btn" x="1340" y="1198"/>
<use href="#btn" x="1167" y="1282"/><use href="#btn" x="1225" y="1282"/><use href="#btn" x="1283" y="1282"/><use href="#btn" x="1340" y="1282"/>
<g fill="#6a6f75" text-anchor="middle" font-weight="bold">
<g font-size="12"><text x="826" y="1227">OK</text><text x="826" y="1311">ESC</text></g>
<g font-size="7.5">
<text x="900" y="1217">HDMI1</text><text x="957" y="1217">HDMI2</text><text x="1014" y="1217">HDMI3</text><text x="1071" y="1217">DP1</text><text x="1128" y="1217">DP2</text>
<text x="900" y="1232">1</text><text x="957" y="1232">2</text><text x="1014" y="1232">3</text><text x="1071" y="1232">4</text><text x="1128" y="1232">5</text>
<text x="900" y="1301">SDI</text><text x="957" y="1301">WIFI</text><text x="1014" y="1301">EXT</text><text x="1071" y="1301">BLACK</text><text x="1128" y="1301">TEST</text>
<text x="900" y="1316">6</text><text x="957" y="1316">7</text><text x="1014" y="1316">8</text><text x="1071" y="1316">9</text><text x="1128" y="1316">0</text>
<text x="1192" y="1226">FREEZE</text><text x="1250" y="1226">SIZE</text><text x="1308" y="1220">LAYER</text><text x="1308" y="1230">STYLE</text><text x="1365" y="1226">MODE</text>
</g>
<g font-size="12" font-weight="normal"><text x="1192" y="1311">A</text><text x="1250" y="1311">B</text><text x="1308" y="1311">C</text><text x="1365" y="1311">D</text></g>
</g>
<text x="1490" y="1228" font-size="10" font-weight="bold" fill="#eee" text-anchor="middle">ON</text>
<rect x="1467" y="1231" width="47" height="63" rx="3" fill="#0a0a0a" stroke="#444"/>
<rect x="1473" y="1237" width="35" height="51" fill="#d42020"/>
<rect x="1473" y="1237" width="35" height="22" fill="#e84040"/>
<rect x="1489" y="1243" width="3" height="10" fill="#fff"/>
<circle cx="1490.5" cy="1273" r="5" fill="none" stroke="#fff" stroke-width="2"/>
<text x="1490" y="1316" font-size="10" font-weight="bold" fill="#eee" text-anchor="middle">OFF</text>
<rect x="1467" y="1329" width="49" height="2" fill="#aaa"/>
<rect x="1469" y="1341" width="46" height="21" rx="3" fill="#ccc" stroke="#666"/>
<rect x="1474" y="1346" width="36" height="10" fill="#333"/>
<text x="1490" y="1381" font-size="9.5" font-weight="bold" fill="#eee" text-anchor="middle">USB</text>

<!-- Bottom image -->
<use href="#ocean" x="113" y="1556" width="1693" height="678"/>

<!-- Connectors -->
<g fill="none" stroke="#ff8000" stroke-width="3.5">
<path d="M336,503 V728 H818 V896"/>
<path d="M618,512 V666 H903 V896"/>
<path d="M922,507 V607 H1047 V896"/>
<path d="M1755,464 V1483 H1507 V1362"/>
</g>
<g fill="#ff8000">
<polygon points="818,910 811,890 818,895 825,890"/>
<polygon points="903,910 896,890 903,895 910,890"/>
<polygon points="1047,910 1040,890 1047,895 1054,890"/>
<polygon points="1507,1347 1500,1367 1507,1362 1514,1367"/>
</g>
<g fill="none" stroke="#2ba6ff" stroke-width="3.5">
<path d="M1187,900 V545"/>
<path d="M1422,545 V757 H1253 V897"/>
<path d="M346,982 V1110 M394,982 V1110 M443,982 V1110 M492,982 V1110"/>
<path d="M680,982 V1110 M728,982 V1110 M777,982 V1110 M826,982 V1110"/>
<path d="M1012,982 V1110 M1061,982 V1110 M1111,982 V1110 M1159,982 V1110"/>
<path d="M1346,982 V1110 M1394,982 V1110 M1444,982 V1110"/>
<path d="M1492,982 V1110 H154 V1483 H1236 V1535"/>
<path d="M561,1483 V1535"/>
</g>
<g fill="#2ba6ff">
<polygon points="1187,529 1180,549 1187,544 1194,549"/>
<polygon points="1422,529 1415,549 1422,544 1429,549"/>
<polygon points="561,1549 554,1529 561,1534 568,1529"/>
<polygon points="1236,1549 1229,1529 1236,1534 1243,1529"/>
</g>
</svg>
</body></html>
